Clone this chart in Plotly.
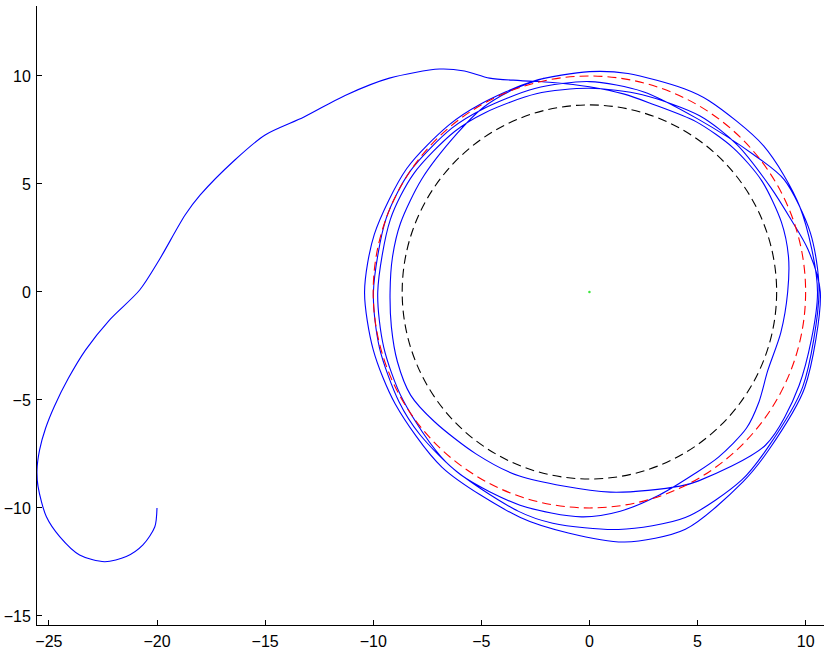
import numpy as np
import plotly.graph_objects as go

# Tail of the trajectory (start at (-20,-10))
tail_x = [-20.0, -20.1, -20.65, -21.42, -22.42, -23.58, -24.5, -25.12, -25.5, -25.55,
          -25.43, -25.15, -24.75, -24.1, -23.3, -22.2, -20.8, -19.9, -18.7, -18.0,
          -16.4, -15.0, -13.2, -11.3, -9.25, -6.93, -5.78, -4.62]
tail_y = [-10.0, -10.87, -11.71, -12.25, -12.49, -12.18, -11.33, -10.40, -9.01, -8.24,
          -7.31, -6.3, -5.3, -4.0, -2.68, -1.3, 0.09, 1.48, 3.56, 4.49,
          6.11, 7.27, 8.1, 9.1, 9.9, 10.32, 10.23, 9.9]

# Orbit part read as (angle in degrees, unwrapped clockwise; radius)
orbit_theta = [108, 100, 90, 80, 72, 58, 45, 33, 20, 10, 0, -12, -24, -33, -41, -52, -60, -71, -82, -92,
               -108, -125, -140, -150, -165, -180, -200, -214, -230, -240, -255, -270,
               -285, -302, -320, -330, -345, -360, -384, -401, -411, -427, -443, -459, -468,
               -490, -510, -525, -540, -560, -574, -590, -600, -615, -630,
               -645, -662, -675, -690, -700, -709, -720, -744, -761, -771, -788, -802, -815, -827,
               -850, -870, -885, -900, -915, -934, -950, -960, -975, -990,
               -1000, -1015, -1022, -1040, -1058, -1080, -1104, -1121, -1140, -1145, -1164,
               -1191, -1205, -1220, -1230, -1240, -1250, -1260, -1270, -1280, -1294, -1310,
               -1320, -1330, -1338]
orbit_r = [10.29, 9.85, 9.5, 9.3, 9.18, 9.3, 9.42, 9.49, 9.45, 9.35, 9.17, 9.05, 9.02, 9.35, 9.62, 9.7, 9.72, 9.94, 10.25, 10.42,
           10.38, 10.35, 10.25, 10.17, 10.05, 9.99, 10.0, 10.0, 9.9, 9.8, 9.75, 9.74,
           9.6, 9.45, 9.9, 10.4, 10.58, 10.62, 10.8, 10.95, 11.2, 11.35, 11.08, 10.84, 10.67,
           10.3, 9.97, 9.85, 9.79, 9.8, 9.8, 9.7, 9.6, 9.5, 9.43,
           9.45, 9.62, 9.65, 9.68, 9.9, 10.3, 10.68, 10.9, 11.05, 11.3, 11.85, 11.69, 11.2, 10.92,
           10.6, 10.37, 10.35, 10.4, 10.3, 10.2, 10.1, 10.05, 10.1, 10.2,
           10.27, 10.38, 10.44, 10.52, 10.5, 10.55, 10.62, 10.8, 10.1, 9.92, 9.32,
           9.12, 9.15, 9.35, 9.55, 9.45, 9.3, 9.22, 9.25, 9.3, 9.35, 9.55,
           9.85, 10.02, 10.12]

# Reference circles
red_radius = 10.0
black_radius = 8.66
center = (0.0, 0.0)

x_ticks = [-25, -20, -15, -10, -5, 0, 5, 10]
y_ticks = [-15, -10, -5, 0, 5, 10]

th = np.radians(np.array(orbit_theta, dtype=float))
rr = np.array(orbit_r, dtype=float)
ox = (rr * np.cos(th)).tolist()
oy = (rr * np.sin(th)).tolist()

path_x = tail_x + ox
path_y = tail_y + oy

fig = go.Figure()
fig.add_trace(go.Scatter(x=path_x, y=path_y, mode="lines",
                         line=dict(color="#0000ff", width=1.1, shape="spline", smoothing=0.8),
                         hoverinfo="skip", showlegend=False))
fig.add_trace(go.Scatter(x=[center[0]], y=[center[1]], mode="markers",
                         marker=dict(color="rgb(60,230,60)", size=2.5),
                         hoverinfo="skip", showlegend=False))

for rad, col in [(red_radius, "#ff0000"), (black_radius, "#000000")]:
    fig.add_shape(type="circle", xref="x", yref="y",
                  x0=center[0] - rad, y0=center[1] - rad,
                  x1=center[0] + rad, y1=center[1] + rad,
                  line=dict(color=col, width=1.1, dash="9px,5px"))

axis_common = dict(showline=True, linecolor="black", linewidth=1,
                   ticks="inside", ticklen=5, tickcolor="black", tickwidth=1,
                   showgrid=False, zeroline=False, mirror=False, automargin=False,
                   tickfont=dict(family="Liberation Sans, Arial, sans-serif", size=16, color="black"))

fig.update_layout(
    width=830, height=649,
    margin=dict(l=37, r=6, t=6, b=24, pad=0),
    paper_bgcolor="white", plot_bgcolor="white",
    xaxis=dict(range=[-25.55, 10.85], tickvals=x_ticks, ticklabelstandoff=2, **axis_common),
    yaxis=dict(range=[-15.42, 13.24], tickvals=y_ticks, ticklabelstandoff=2, **axis_common),
    showlegend=False,
)

fig.write_html("out.html", config={"displayModeBar": False},
               post_script="document.body.style.margin='0';document.body.style.overflow='hidden';")
